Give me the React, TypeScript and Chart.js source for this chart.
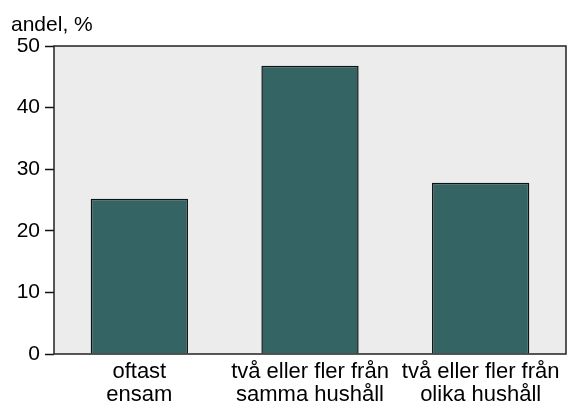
import React, { useEffect, useRef } from "react";
import { Chart, registerables } from "chart.js";

Chart.register(...registerables);

const categories: string[][] = [
  ["oftast", "ensam"],
  ["två eller fler från", "samma hushåll"],
  ["två eller fler från", "olika hushåll"],
];
const values: number[] = [25.2, 46.8, 27.8];
const yTicks: number[] = [0, 10, 20, 30, 40, 50];
const yTitle = "andel, %";

const FONT = "'Liberation Sans', Arial, Helvetica, sans-serif";

const framePlugin = {
  id: "frame",
  beforeDatasetsDraw(chart: any) {
    const { ctx, chartArea: a } = chart;
    ctx.save();
    ctx.fillStyle = "#ececec";
    ctx.fillRect(a.left, a.top, a.right - a.left, a.bottom - a.top);
    ctx.restore();
  },
  afterDatasetsDraw(chart: any) {
    const { ctx, chartArea: a } = chart;
    ctx.save();
    ctx.strokeStyle = "#222";
    ctx.lineWidth = 1.5;
    ctx.strokeRect(a.left, a.top, a.right - a.left, a.bottom - a.top);
    ctx.restore();
  },
  afterDraw(chart: any) {
    const { ctx } = chart;
    ctx.save();
    ctx.fillStyle = "#000";
    ctx.font = `21px ${FONT}`;
    ctx.textBaseline = "alphabetic";
    ctx.textAlign = "left";
    ctx.fillText(yTitle, 11, 31);
    ctx.restore();
  },
};

export default function App() {
  const ref = useRef<HTMLCanvasElement>(null);
  useEffect(() => {
    document.body.style.margin = "0";
    const chart = new Chart(ref.current!, {
      type: "bar",
      data: {
        labels: categories,
        datasets: [
          {
            data: values,
            backgroundColor: "#346464",
            borderColor: "#111",
            borderWidth: 1.5,
            barPercentage: 0.57,
            categoryPercentage: 1,
          },
        ],
      },
      options: {
        animation: false,
        responsive: false,
        maintainAspectRatio: false,
        layout: { padding: { left: 0, right: 8, top: 46, bottom: 0 } },
        plugins: { legend: { display: false }, tooltip: { enabled: false } },
        scales: {
          x: {
            grid: { display: false, drawTicks: false },
            border: { display: false },
            ticks: {
              color: "#000",
              font: { family: FONT, size: 22, lineHeight: 1.05 },
              padding: 6,
              maxRotation: 0,
              autoSkip: false,
            },
            afterFit(scale: any) {
              scale.height = 49;
            },
          },
          y: {
            min: 0,
            max: 50,
            afterBuildTicks(scale: any) {
              scale.ticks = yTicks.map((v) => ({ value: v }));
            },
            grid: {
              drawOnChartArea: false,
              drawTicks: true,
              tickLength: 9,
              tickColor: "#111",
              tickWidth: 1.5,
            },
            border: { display: false },
            ticks: {
              color: "#000",
              font: { family: FONT, size: 21 },
              padding: 5,
            },
            afterFit(scale: any) {
              scale.width = 54;
            },
          },
        },
      },
      plugins: [framePlugin],
    });
    return () => chart.destroy();
  }, []);
  return (
    <div style={{ position: "absolute", left: 0, top: 0, width: 574, height: 403, background: "#fff" }}>
      <canvas ref={ref} width={574} height={403} style={{ width: 574, height: 403 }} />
    </div>
  );
}
